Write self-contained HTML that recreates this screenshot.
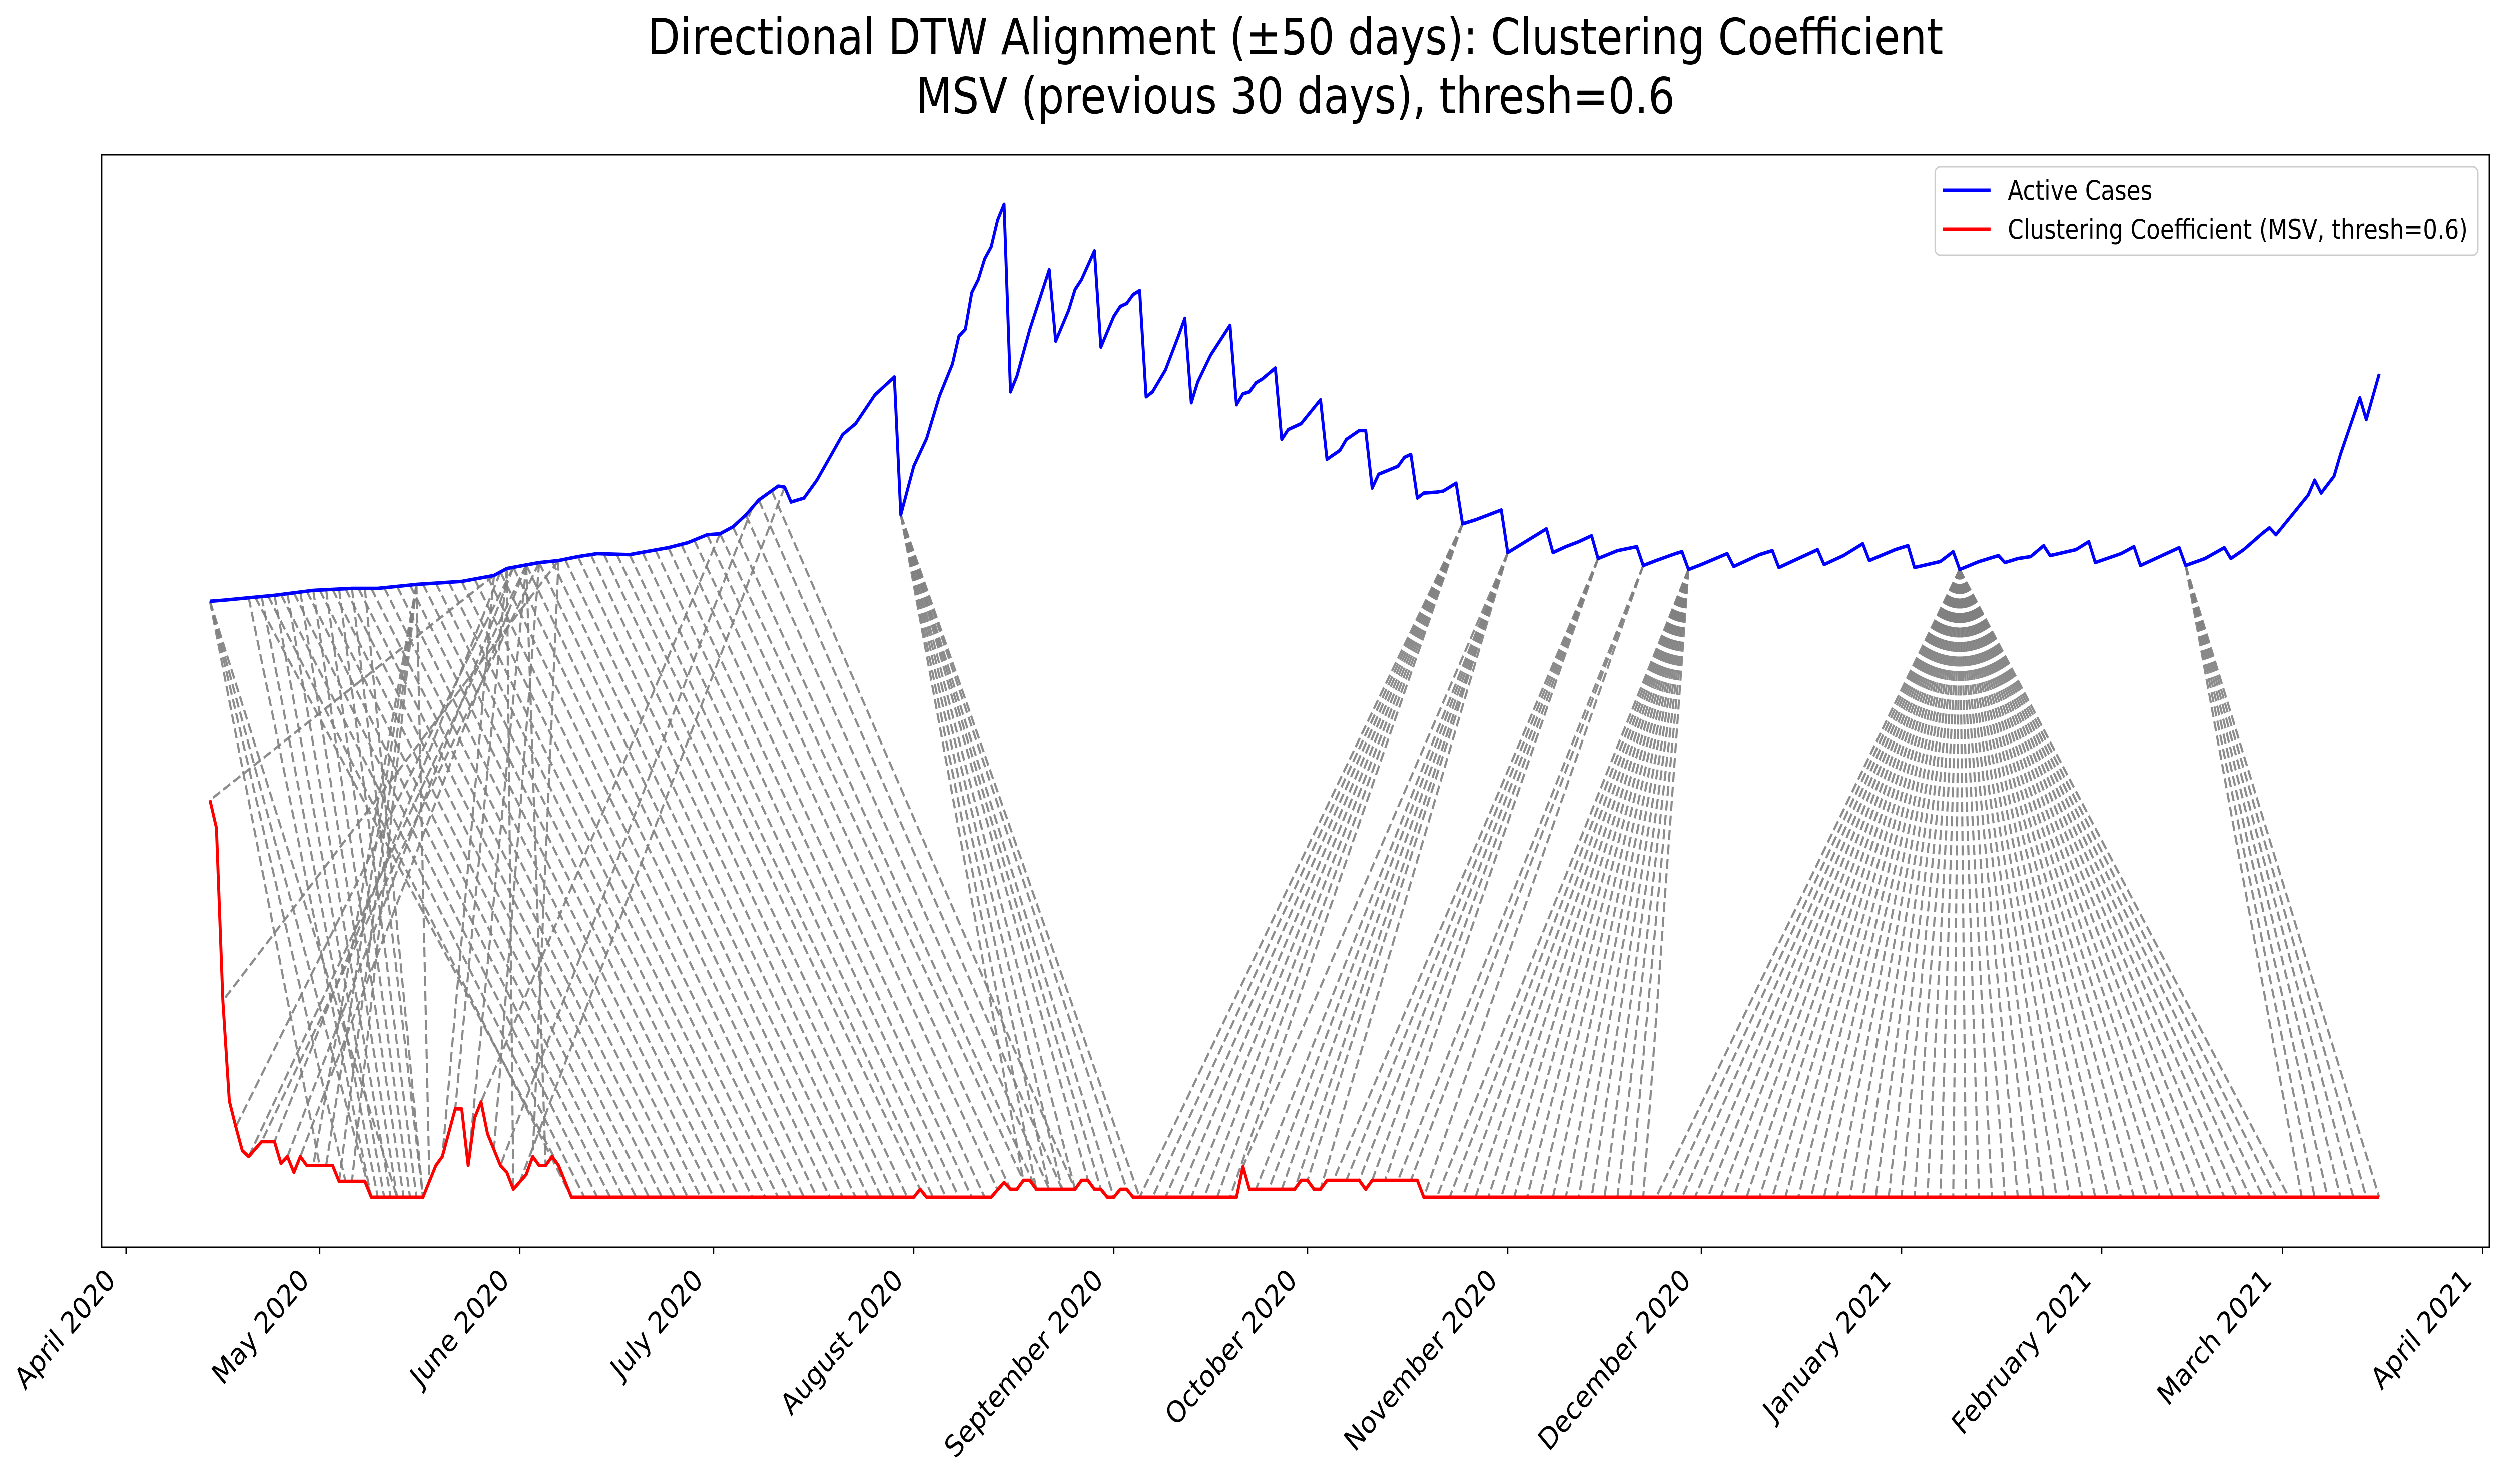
<!DOCTYPE html>
<html><head><meta charset="utf-8">
<meta name="viewport" content="width=5958, initial-scale=1">
<style>
html,body{margin:0;padding:0;background:#fff;width:100%;height:100%;overflow:hidden;}
svg{display:block;width:100vw;height:100vh;font-family:"DejaVu Sans","Liberation Sans",sans-serif;}
</style></head>
<body>
<svg id="chart" xmlns="http://www.w3.org/2000/svg" viewBox="0 0 5958 2966" preserveAspectRatio="none">
<rect x="0" y="0" width="5958" height="2966" fill="#fff"/>
<text x="3085" y="108" font-size="100" text-anchor="middle">Directional DTW Alignment (±50 days): Clustering Coefficient</text>
<text x="3085" y="226" font-size="100" text-anchor="middle">MSV (previous 30 days), thresh=0.6</text>
<g id="dtw"></g>
<g id="series"></g>
<rect x="242" y="309" width="5686" height="2184" fill="none" stroke="#000" stroke-width="3"/>
<g id="xaxis"></g>
<g>
<rect x="4608" y="333" width="1293" height="177" rx="12" fill="#fff" fill-opacity="0.8" stroke="#ccc" stroke-width="3"/>
<line x1="4626" y1="380" x2="4740" y2="380" stroke="#0000ff" stroke-width="7"/>
<text x="4781" y="399" font-size="54">Active Cases</text>
<line x1="4626" y1="458" x2="4740" y2="458" stroke="#ff0000" stroke-width="7"/>
<text x="4781" y="477" font-size="54">Clustering Coefficient (MSV, thresh=0.6)</text>
</g>
</svg>
<script>
// ---- data (days since 2020-04-01, normalized values) ----
var blueDays=[13,15,23,29,35,39,45,52,57,59,64,67,70,73,78,84,87,90,92,94,96,98,101,102,103,105,107,109,111,113,116,119,120,122,124,126,128,129,130,131,132,133,134,135,136,137,138,140,143,144,146,147,148,150,151,153,154,155,156,157,158,159,161,163,164,165,166,168,171,172,173,174,175,176,178,179,180,182,185,186,188,189,191,192,193,194,197,198,199,200,201,203,204,206,207,209,211,213,214,216,217,220,221,223,225,227,228,231,234,235,237,240,241,242,244,248,249,253,255,256,260,262,263,266,269,270,274,276,277,281,283,284,287,290,291,293,295,297,298,302,304,305,309,311,312,316,318,319,322,325,326,328,331,332,333,336,338,339,340,342,343,346,347,349];
var blueVals=[.600,.601,.606,.611,.613,.613,.617,.620,.626,.633,.639,.641,.645,.648,.647,.654,.659,.667,.668,.675,.687,.702,.716,.715,.700,.704,.722,.745,.768,.779,.808,.826,.687,.736,.764,.807,.839,.867,.874,.911,.924,.945,.957,.984,1.0,.811,.827,.874,.934,.862,.893,.914,.924,.953,.856,.887,.897,.900,.909,.913,.806,.811,.833,.867,.885,.800,.821,.848,.878,.798,.809,.811,.820,.824,.835,.763,.773,.779,.803,.743,.752,.763,.772,.772,.714,.728,.736,.745,.748,.704,.709,.710,.711,.719,.678,.682,.687,.692,.649,.657,.661,.673,.649,.655,.660,.666,.643,.651,.655,.636,.641,.648,.650,.632,.637,.648,.635,.647,.651,.634,.646,.652,.637,.646,.658,.641,.652,.656,.634,.640,.650,.632,.640,.646,.639,.643,.645,.656,.646,.652,.660,.639,.648,.655,.636,.648,.654,.636,.643,.654,.643,.652,.669,.674,.667,.691,.707,.722,.709,.726,.748,.805,.783,.829];
var redDays=[13,14,15,16,17,18,19,21,23,24,25,26,27,28,32,33,37,38,46,48,49,51,52,53,54,55,56,58,59,60,62,63,64,65,66,67,69,122,123,124,134,136,137,138,139,140,141,147,148,149,150,151,152,153,154,155,156,172,173,174,181,182,183,184,185,186,191,192,193,200,201,349];
var redVals=[.400,.372,.198,.097,.071,.047,.041,.056,.056,.034,.041,.025,.041,.032,.032,.016,.016,0,0,.032,.041,.089,.089,.032,.080,.096,.064,.032,.025,.008,.023,.041,.032,.032,.041,.032,0,0,.008,0,0,.015,.008,.008,.017,.017,.008,.008,.017,.017,.008,.008,0,0,.008,.008,0,0,.031,.008,.008,.017,.017,.008,.008,.017,.017,.008,.017,.017,0,0];
// individual alignment pairs (blue day -> red day)
var pairBlue=[13,13,13,13,19,21,23,25,27,29,31,33,35,37,57,67,60,62,64,58,60,62,45,45,45,45,45,59,67,62,92,97,102,57,59,62,64];
var pairRed =[30,34,38,42,38,39,40,41,42,43,44,45,46,46,13,15,17,19,21,23,25,27,29,31,33,35,47,60,63,65,55,58,61,49,51,53,57];
// diagonal band: blue start/end days, lag in days
var bandBlueStart=[20];
var bandBlueEnd=[100];
var bandLag=[47];
// fans: one blue day aligned to a run of red days
var fanBlue=[120,207,214,228,235,242,284,319];
var fanRedStart=[139,157,173,187,197,203,237,337];
var fanRedEnd=[157,171,185,195,201,235,335,349];
var fanStep=2;
var monthLabels=["April 2020","May 2020","June 2020","July 2020","August 2020","September 2020","October 2020","November 2020","December 2020","January 2021","February 2021","March 2021","April 2021"];
var monthDays=[0,30,61,91,122,153,183,214,244,275,306,334,365];

// ---- axes ----
var X0=300, PXD=15.375, Y0=2393, PXV=1985;
function xs(d){return X0+PXD*d;}
function ys(v){return Y0-PXV*v;}
function interp(ds,vs,d){
  if(d<=ds[0])return vs[0];
  for(var i=1;i<ds.length;i++){ if(d<=ds[i]){var t=(d-ds[i-1])/(ds[i]-ds[i-1]);return vs[i-1]+t*(vs[i]-vs[i-1]);} }
  return vs[vs.length-1];
}
var NS="http://www.w3.org/2000/svg";
var dtwG=document.getElementById('dtw');
function dtwLine(b,r,name){
  var l=document.createElementNS(NS,'line');
  l.setAttribute('x1',xs(b));l.setAttribute('y1',ys(interp(blueDays,blueVals,b)));
  l.setAttribute('x2',xs(r));l.setAttribute('y2',ys(interp(redDays,redVals,r)));
  l.setAttribute('stroke','#808080');l.setAttribute('stroke-opacity','0.9');
  l.setAttribute('stroke-width','5');l.setAttribute('stroke-dasharray','20 9');
  
  
  dtwG.appendChild(l);
}
for(var i=0;i<pairBlue.length;i++){ dtwLine(pairBlue[i],pairRed[i],'dtw-link'); }
for(var k=0;k<bandBlueStart.length;k++){
  for(var b=bandBlueStart[k];b<=bandBlueEnd[k];b+=2){ dtwLine(b,b+bandLag[k],'dtw-band-link'); }
}
for(var f=0;f<fanBlue.length;f++){
  for(var r=fanRedStart[f];r<=fanRedEnd[f];r+=fanStep){ dtwLine(fanBlue[f],r,'dtw-fan-link'); }
}
var sG=document.getElementById('series');
function poly(ds,vs,color,name){
  var p=document.createElementNS(NS,'polyline');
  var pts=[];for(var i=0;i<ds.length;i++)pts.push(xs(ds[i]).toFixed(1)+','+ys(vs[i]).toFixed(1));
  p.setAttribute('points',pts.join(' '));
  p.setAttribute('fill','none');p.setAttribute('stroke',color);p.setAttribute('stroke-width','7');
  p.setAttribute('stroke-linejoin','round');
  
  
  sG.appendChild(p);
}
poly(blueDays,blueVals,'#0000ff','active-cases-line');
poly(redDays,redVals,'#ff0000','clustering-coefficient-line');
var xG=document.getElementById('xaxis');
for(var m=0;m<monthDays.length;m++){
  var tx=xs(monthDays[m]);
  var t=document.createElementNS(NS,'line');
  t.setAttribute('x1',tx);t.setAttribute('x2',tx);t.setAttribute('y1',2493);t.setAttribute('y2',2507);
  t.setAttribute('stroke','#000');t.setAttribute('stroke-width','3');
  
  
  xG.appendChild(t);
  var lb=document.createElementNS(NS,'text');
  var ax=tx-22, ay=2562;
  lb.setAttribute('x',ax);lb.setAttribute('y',ay);
  lb.setAttribute('font-size','60');lb.setAttribute('text-anchor','end');
  lb.setAttribute('transform','rotate(-45 '+ax+' '+ay+')');
  lb.textContent=monthLabels[m];
  
  
  xG.appendChild(lb);
}
</script>
</body></html>
